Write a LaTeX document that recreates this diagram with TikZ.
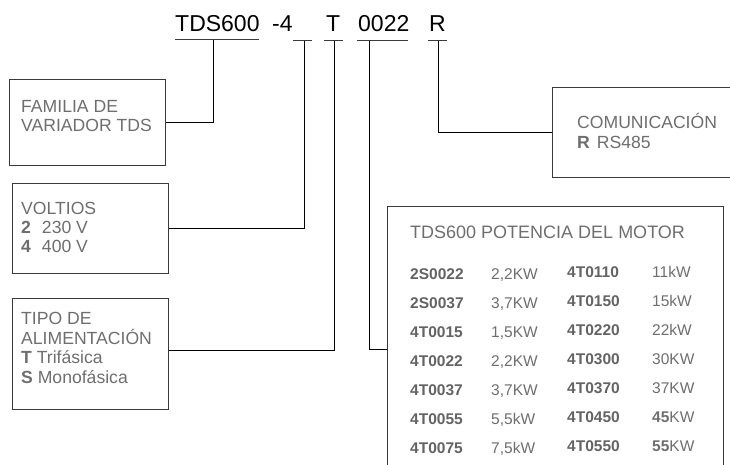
\documentclass[tikz,border=0pt]{standalone}
\usepackage{fontspec}
\setmainfont{Liberation Sans}
\definecolor{txt}{HTML}{6E6E6E}
\definecolor{frame}{HTML}{3A3A3A}
\begin{document}
\begin{tikzpicture}[x=1pt,y=-1pt,
  lbl/.style={anchor=base west, inner sep=0pt, text=txt, font=\fontsize{17.6}{20}\selectfont},
  tab/.style={anchor=base west, inner sep=0pt, text=txt, font=\fontsize{15.5}{18}\selectfont},
  tabb/.style={anchor=base west, inner sep=0pt, text=txt!90!black, font=\fontsize{15.5}{18}\selectfont\bfseries},
  ttl/.style={anchor=base west, inner sep=0pt, text=black, font=\fontsize{23}{26}\selectfont},
  boxf/.style={draw=frame, line width=0.9pt, inner sep=0pt, anchor=north west},
  uline/.style={draw=frame, line width=1.6pt},
  conn/.style={draw=black, line width=0.8pt}]
\useasboundingbox (0,0) rectangle (730,465);

% title
\node[ttl] (tds) at (175,31.5) {TDS600};
\node[ttl] (volt4) at (272,31.5) {-4};
\node[ttl] (tt) at (326,31.5) {T};
\node[ttl] (pw) at (358,31.5) {0022};
\node[ttl] (rr) at (429,31.5) {R};

% underlines
\draw[uline] (175,39.5) -- (259,39.5);
\draw[uline] (293,40.5) -- (312,40.5);
\draw[uline] (324,40.5) -- (343,40.5);
\draw[uline] (357,40.5) -- (408,40.5);
\draw[uline] (428,40.5) -- (447,40.5);

% boxes
\node[boxf, minimum width=156, minimum height=86] (fam) at (9,79) {};
\node[boxf, minimum width=156, minimum height=90] (volt) at (12,183) {};
\node[boxf, minimum width=156, minimum height=111] (tipo) at (12,298) {};
\node[boxf, minimum width=200, minimum height=90] (com) at (552,87) {};
\node[boxf, minimum width=336, minimum height=290] (pot) at (387,206) {};

% connectors
\coordinate (t1) at (213,40.5);
\coordinate (t2) at (304,41.5);
\coordinate (t3) at (334,41.5);
\coordinate (t4) at (369,41.5);
\coordinate (t5) at (438,41.5);
\draw[conn] (t1) |- (fam.east);
\draw[conn] (t2) |- (volt.east);
\draw[conn] (t3) |- ([yshift=3.5pt]tipo.east);
\draw[conn] (t4) |- ([yshift=2pt]pot.west);
\draw[conn] (t5) |- (com.west);

% box texts
\node[lbl] (f1) at (21,113) {FAMILIA DE};
\node[lbl] (f2) at (21,132) {VARIADOR TDS};
\node[lbl] (v1) at (21,214) {VOLTIOS};
\node[lbl] (v2) at (21,233) {\textbf{2}\hspace{11pt}230 V};
\node[lbl] (v3) at (21,252) {\textbf{4}\hspace{11pt}400 V};
\node[lbl] (a1) at (21,324) {TIPO DE};
\node[lbl] (a2) at (21,344) {ALIMENTACIÓN};
\node[lbl] (a3) at (21,363) {\textbf{T} Trifásica};
\node[lbl] (a4) at (21,383) {\textbf{S} Monofásica};
\node[lbl] (c1) at (577,129) {COMUNICACIÓN};
\node[lbl] (c2) at (577,149) {\textbf{R}\hspace{7pt}RS485};

% table
\node[anchor=base west, inner sep=0pt, text=txt, font=\fontsize{18}{20}\selectfont] (ptitle) at (410,238.5) {TDS600 POTENCIA DEL MOTOR};

\node[tabb] (k1) at (410,279.5) {2S0022}; \node[tab] (w1) at (491,279.5) {2,2KW};
\node[tabb] (k2) at (410,308.5) {2S0037}; \node[tab] (w2) at (491,308.5) {3,7KW};
\node[tabb] (k3) at (410,337.5) {4T0015}; \node[tab] (w3) at (491,337.5) {1,5KW};
\node[tabb] (k4) at (410,366.5) {4T0022}; \node[tab] (w4) at (491,366.5) {2,2KW};
\node[tabb] (k5) at (410,395.5) {4T0037}; \node[tab] (w5) at (491,395.5) {3,7KW};
\node[tabb] (k6) at (410,424.5) {4T0055}; \node[tab] (w6) at (491,424.5) {5,5kW};
\node[tabb] (k7) at (410,453.5) {4T0075}; \node[tab] (w7) at (491,453.5) {7,5kW};

\node[tabb] (r1) at (567,277.5) {4T0110}; \node[tab] (x1) at (652,277.5) {11kW};
\node[tabb] (r2) at (567,306.5) {4T0150}; \node[tab] (x2) at (652,306.5) {15kW};
\node[tabb] (r3) at (567,335.5) {4T0220}; \node[tab] (x3) at (652,335.5) {22kW};
\node[tabb] (r4) at (567,364.5) {4T0300}; \node[tab] (x4) at (652,364.5) {30KW};
\node[tabb] (r5) at (567,393.5) {4T0370}; \node[tab] (x5) at (652,393.5) {37KW};
\node[tabb] (r6) at (567,422.5) {4T0450}; \node[tab] (x6) at (652,422.5) {\textbf{45}KW};
\node[tabb] (r7) at (567,451.5) {4T0550}; \node[tab] (x7) at (652,451.5) {\textbf{55}KW};
\end{tikzpicture}
\end{document}
